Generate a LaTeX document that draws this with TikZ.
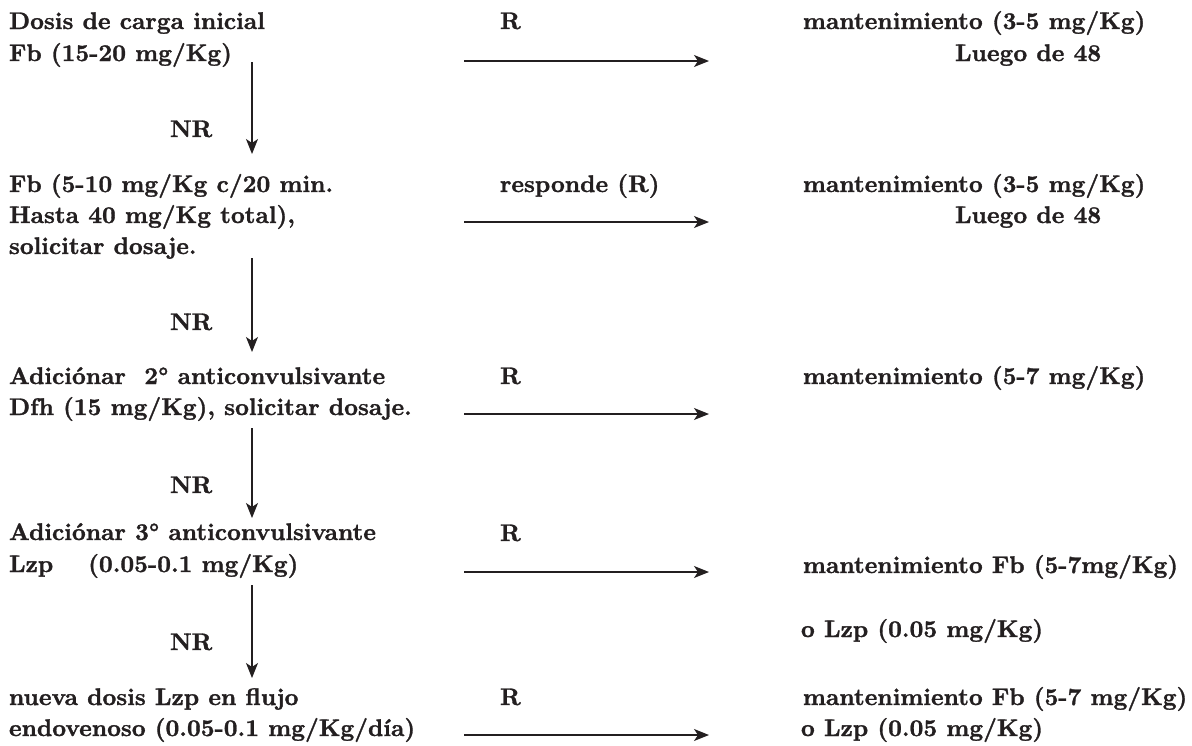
\documentclass[tikz,border=0pt]{standalone}
\usepackage{fontspec}
\setmainfont{lmroman10-regular.otf}[BoldFont=lmroman10-bold.otf, BoldFeatures={FakeBold=1.3}]
\usetikzlibrary{arrows.meta}
\definecolor{ink}{RGB}{35,31,32}
\begin{document}
\begin{tikzpicture}[x=1pt,y=-1pt,
  every node/.style={inner sep=0pt, outer sep=0pt, anchor=base west,
    font=\fontsize{24}{31}\selectfont\bfseries, text=ink},
  arr/.style={draw=ink, line width=1.3pt, -{Stealth[length=15pt,width=12pt,inset=4pt]}}]
\useasboundingbox (0,0) rectangle (1192,745);
% row 1
\node (n1a) at (9,29) {Dosis de carga inicial};
\node (n1b) at (9,61) {Fb (15-20 mg/Kg)};
\node (r1) at (500,29) {R};
\node (m1a) at (803,29) {mantenimiento (3-5 mg/Kg)};
\node (m1b) at (955,61) {Luego de 48};
\coordinate (h1s) at (464,61); \coordinate (h1e) at (709,61);
\draw[arr] (h1s) -- (h1e);
\coordinate (v1s) at (252,62); \coordinate (v1e) at (252,154);
\draw[arr] (v1s) -- (v1e);
\node (nr1) at (170,137) {NR};
% row 2
\node (n2a) at (9,192) {Fb (5-10 mg/Kg c/20 min.};
\node (n2b) at (9,223) {Hasta 40 mg/Kg total),};
\node (n2c) at (9,254) {solicitar dosaje.};
\node (r2) at (500,192) {responde (R)};
\node (m2a) at (803,192) {mantenimiento (3-5 mg/Kg)};
\node (m2b) at (955,223) {Luego de 48};
\coordinate (h2s) at (464,222); \coordinate (h2e) at (709,222);
\draw[arr] (h2s) -- (h2e);
\coordinate (v2s) at (252,258); \coordinate (v2e) at (252,352);
\draw[arr] (v2s) -- (v2e);
\node (nr2) at (170,330) {NR};
% row 3
\node (n3a) at (9,384) {Adiciónar\ \ 2° anticonvulsivante};
\node (n3b) at (9,415) {Dfh (15 mg/Kg), solicitar dosaje.};
\node (r3) at (500,384) {R};
\node (m3) at (803,384) {mantenimiento (5-7 mg/Kg)};
\coordinate (h3s) at (464,414); \coordinate (h3e) at (709,414);
\draw[arr] (h3s) -- (h3e);
\coordinate (v3s) at (252,428); \coordinate (v3e) at (252,518);
\draw[arr] (v3s) -- (v3e);
\node (nr3) at (170,493) {NR};
% row 4
\node (n4a) at (9,540) {Adiciónar 3° anticonvulsivante};
\node (n4b) at (9,572) {Lzp\hspace*{35pt}(0.05-0.1 mg/Kg)};
\node (r4) at (500,541) {R};
\node (m4a) at (803,573) {mantenimiento Fb (5-7mg/Kg)};
\node (m4b) at (801,637) {o Lzp (0.05 mg/Kg)};
\coordinate (h4s) at (464,572); \coordinate (h4e) at (709,572);
\draw[arr] (h4s) -- (h4e);
\coordinate (v4s) at (252,585); \coordinate (v4e) at (252,678);
\draw[arr] (v4s) -- (v4e);
\node (nr4) at (170,650) {NR};
% row 5
\node (n5a) at (9,705) {nueva dosis Lzp en flujo};
\node (n5b) at (9,736) {endovenoso (0.05-0.1 mg/Kg/día)};
\node (r5) at (500,705) {R};
\node (m5a) at (803,705) {mantenimiento Fb (5-7 mg/Kg)};
\node (m5b) at (801,736) {o Lzp (0.05 mg/Kg)};
\coordinate (h5s) at (464,735); \coordinate (h5e) at (709,735);
\draw[arr] (h5s) -- (h5e);
\end{tikzpicture}
\end{document}
